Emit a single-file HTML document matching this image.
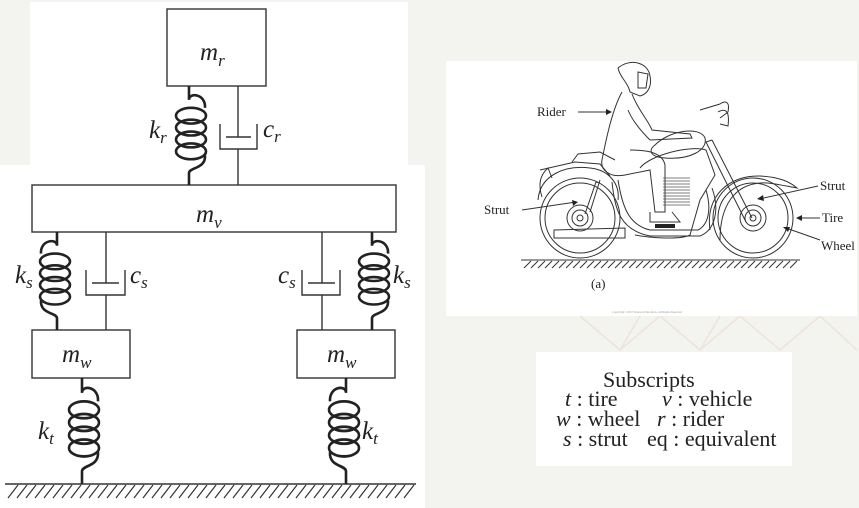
<!DOCTYPE html>
<html><head><style>
html,body{margin:0;padding:0;background:#f3f4ef;}
svg{display:block;}
text{font-family:"Liberation Serif",serif;fill:#222;}
.it{font-style:italic;}
</style></head><body>
<svg width="859" height="508" viewBox="0 0 859 508" xmlns="http://www.w3.org/2000/svg">
<defs>
<g id="spr" fill="none" stroke="#222" stroke-width="2.6">
<path d="M0,0 V14 C0,6 17,8 16,22"/>
<ellipse cx="2" cy="30" rx="15" ry="8"/>
<ellipse cx="2" cy="42" rx="15" ry="8"/>
<ellipse cx="2" cy="54" rx="15" ry="8"/>
<ellipse cx="2" cy="66" rx="15" ry="8"/>
<path d="M16,70 C17,84 0,82 0,88 V100"/>
</g>
<g id="spl" fill="none" stroke="#222" stroke-width="2.6">
<path d="M0,0 V14 C0,6 -17,8 -16,22"/>
<ellipse cx="-2" cy="30" rx="15" ry="8"/>
<ellipse cx="-2" cy="42" rx="15" ry="8"/>
<ellipse cx="-2" cy="54" rx="15" ry="8"/>
<ellipse cx="-2" cy="66" rx="15" ry="8"/>
<path d="M-16,70 C-17,84 0,82 0,88 V100"/>
</g>
</defs>
<g stroke="#efe2da" stroke-width="1.5" fill="none">
<path d="M580,316 L620,350 L660,316 L700,350 L740,316 L780,350 L820,316 L857,350"/>
<path d="M620,350 L640,316 M700,350 L720,316"/>
</g>
<rect x="30" y="2" width="378" height="164" fill="#fff"/>
<rect x="0" y="165" width="425" height="343" fill="#fff"/>
<rect x="446" y="61" width="411" height="255" fill="#fff"/>
<rect x="536" y="352" width="256" height="114" fill="#fff"/>

<g fill="none" stroke="#333" stroke-width="1.4">
<rect x="167" y="9" width="99" height="77"/>
<rect x="32" y="185" width="364" height="47"/>
<rect x="32" y="330" width="98" height="48"/>
<rect x="297" y="330" width="98" height="48"/>
<path d="M238,86 V137 M226,137 H251 M220,124 V149 H257 V124 M238,149 V185"/>
<path d="M106,232 V283 M92,283 H119 M86,270 V295 H125 V270 M106,295 V330"/>
<path d="M322,232 V283 M308,283 H335 M302,270 V295 H340 V270 M322,295 V330"/>
<path d="M5,484 H416"/>
</g>
<g stroke="#333" stroke-width="1.2">
<path d="M8,498 l10,-13 M17,498 l10,-13 M26,498 l10,-13 M35,498 l10,-13 M44,498 l10,-13 M53,498 l10,-13 M62,498 l10,-13 M71,498 l10,-13 M80,498 l10,-13 M89,498 l10,-13 M98,498 l10,-13 M107,498 l10,-13 M116,498 l10,-13 M125,498 l10,-13 M134,498 l10,-13 M143,498 l10,-13 M152,498 l10,-13 M161,498 l10,-13 M170,498 l10,-13 M179,498 l10,-13 M188,498 l10,-13 M197,498 l10,-13 M206,498 l10,-13 M215,498 l10,-13 M224,498 l10,-13 M233,498 l10,-13 M242,498 l10,-13 M251,498 l10,-13 M260,498 l10,-13 M269,498 l10,-13 M278,498 l10,-13 M287,498 l10,-13 M296,498 l10,-13 M305,498 l10,-13 M314,498 l10,-13 M323,498 l10,-13 M332,498 l10,-13 M341,498 l10,-13 M350,498 l10,-13 M359,498 l10,-13 M368,498 l10,-13 M377,498 l10,-13 M386,498 l10,-13 M395,498 l10,-13 M404,498 l10,-13"/>
</g>
<use href="#spr" transform="translate(189,86) scale(1,0.99)"/>
<use href="#spl" transform="translate(57,232) scale(1,0.98)"/>
<use href="#spr" transform="translate(372,232) scale(1,0.98)"/>
<use href="#spr" transform="translate(82,378) scale(1,1.06)"/>
<use href="#spl" transform="translate(346,378) scale(1,1.06)"/>

<g font-size="25" class="it">
<text x="200" y="60" class="it">m<tspan font-size="17" dy="6">r</tspan></text>
<text x="196" y="222" class="it">m<tspan font-size="17" dy="6">v</tspan></text>
<text x="62" y="362" class="it">m<tspan font-size="17" dy="6">w</tspan></text>
<text x="327" y="362" class="it">m<tspan font-size="17" dy="6">w</tspan></text>
<text x="149" y="138" class="it">k<tspan font-size="17" dy="5">r</tspan></text>
<text x="263" y="137" class="it">c<tspan font-size="17" dy="5">r</tspan></text>
<text x="15" y="283" class="it">k<tspan font-size="17" dy="5">s</tspan></text>
<text x="130" y="283" class="it">c<tspan font-size="17" dy="5">s</tspan></text>
<text x="278" y="283" class="it">c<tspan font-size="17" dy="5">s</tspan></text>
<text x="393" y="283" class="it">k<tspan font-size="17" dy="5">s</tspan></text>
<text x="38" y="439" class="it">k<tspan font-size="17" dy="5">t</tspan></text>
<text x="362" y="439" class="it">k<tspan font-size="17" dy="5">t</tspan></text>
</g>

<g fill="none" stroke="#333" stroke-width="1">
<circle cx="580" cy="218" r="40"/><circle cx="580" cy="218" r="35"/><circle cx="580" cy="218" r="13"/><circle cx="580" cy="218" r="8"/><circle cx="580" cy="218" r="3"/>
<circle cx="753" cy="218" r="40"/><circle cx="753" cy="218" r="35"/><circle cx="753" cy="218" r="13"/><circle cx="753" cy="218" r="8"/><circle cx="753" cy="218" r="3"/>
<path d="M538,200 C540,175 565,165 590,168 C610,170 620,185 618,200"/>
<path d="M542,197 C538,185 540,175 548,168 L552,178"/>
<path d="M540,170 L575,162 L600,164 L610,176"/>
<path d="M572,162 L578,154 L600,152 L615,160"/>
<path d="M710,230 C705,195 730,175 760,176 C780,177 790,182 797,188 C785,186 770,182 760,183 C735,185 720,205 720,240"/>
<path d="M590,212 L600,180 M585,214 L596,182 L600,183"/>
<path d="M752,218 L712,140 M746,222 L706,142 L712,140"/>
<path d="M700,110 L720,104 C726,100 730,102 728,112 L720,118"/>
<path d="M718,112 C725,108 730,110 728,126 L720,124"/>
<path d="M655,145 C670,130 700,126 705,138 C708,150 690,160 665,158 C650,157 648,150 655,145 Z"/>
<path d="M640,168 C650,155 690,145 706,150 L715,175 L700,200 L690,235 C680,240 650,238 635,235"/>
<path d="M612,182 C615,210 620,230 650,236 L700,236 C715,230 720,210 712,188"/>
<path d="M618,180 C622,205 628,225 650,230 L698,230 C708,225 712,210 706,190"/>
<path d="M554,230 L625,228 L625,238 L554,238 Z"/>
<path d="M618,68 C630,58 648,62 650,76 C652,86 648,94 640,96 L630,92 C628,82 620,78 618,68 Z"/>
<path d="M638,72 L648,74 L646,88 L638,88 Z"/>
<path d="M622,92 C612,110 606,140 602,160 C600,170 610,178 625,175 L650,170 L655,212 L665,212 L665,165 C662,150 640,150 630,150"/>
<path d="M632,94 C638,110 648,120 652,130 L690,134 L692,138 L650,140 C640,130 632,120 628,110"/>
<path d="M650,212 L650,222 L680,222 L672,212"/>
</g>
<g stroke="#555" stroke-width="0.8">
<path d="M663,178 H690 M663,181 H690 M663,184 H690 M663,187 H690 M663,190 H690 M663,193 H690 M663,196 H690 M663,199 H690 M663,202 H690 M663,205 H690"/>
</g>
<rect x="655" y="224" width="20" height="4" fill="#222"/>
<g stroke="#333" stroke-width="1">
<path d="M521,260 H800"/>
<path d="M524,268 l7,-7 M531,268 l7,-7 M538,268 l7,-7 M545,268 l7,-7 M552,268 l7,-7 M559,268 l7,-7 M566,268 l7,-7 M573,268 l7,-7 M580,268 l7,-7 M587,268 l7,-7 M594,268 l7,-7 M601,268 l7,-7 M608,268 l7,-7 M615,268 l7,-7 M622,268 l7,-7 M629,268 l7,-7 M636,268 l7,-7 M643,268 l7,-7 M650,268 l7,-7 M657,268 l7,-7 M664,268 l7,-7 M671,268 l7,-7 M678,268 l7,-7 M685,268 l7,-7 M692,268 l7,-7 M699,268 l7,-7 M706,268 l7,-7 M713,268 l7,-7 M720,268 l7,-7 M727,268 l7,-7 M734,268 l7,-7 M741,268 l7,-7 M748,268 l7,-7 M755,268 l7,-7 M762,268 l7,-7 M769,268 l7,-7 M776,268 l7,-7 M783,268 l7,-7 M790,268 l7,-7"/>
<path d="M578,112 H608 M522,210 L576,202 M818,186 L759,199 M820,218 H800 M820,240 L786,228"/>
</g>
<g fill="#222">
<path d="M612,112 l-6,-3 v6 z"/>
<path d="M578,202 l-6,-2 l1,6 z"/>
<path d="M757,199 l6,-4 l1,6 z"/>
<path d="M796,218 l6,-3 v6 z"/>
<path d="M783,227 l7,0 l-2,5 z"/>
</g>
<g font-size="13">
<text x="537" y="116">Rider</text>
<text x="484" y="214">Strut</text>
<text x="820" y="190">Strut</text>
<text x="822" y="222">Tire</text>
<text x="821" y="250">Wheel</text>
<text x="591" y="288" font-size="13">(a)</text>
</g>
<text x="612" y="313" font-size="3" style="fill:#999">Copyright ©2017 Pearson Education, All Rights Reserved</text>

<g font-size="22">
<text x="603" y="387">Subscripts</text>
<text x="565" y="406"><tspan class="it">t</tspan> : tire</text>
<text x="662" y="406"><tspan class="it">v</tspan> : vehicle</text>
<text x="556" y="426"><tspan class="it">w</tspan> : wheel</text>
<text x="657" y="426"><tspan class="it">r</tspan> : rider</text>
<text x="563" y="446"><tspan class="it">s</tspan> : strut</text>
<text x="647" y="446">eq : equivalent</text>
</g>
</svg>
</body></html>
